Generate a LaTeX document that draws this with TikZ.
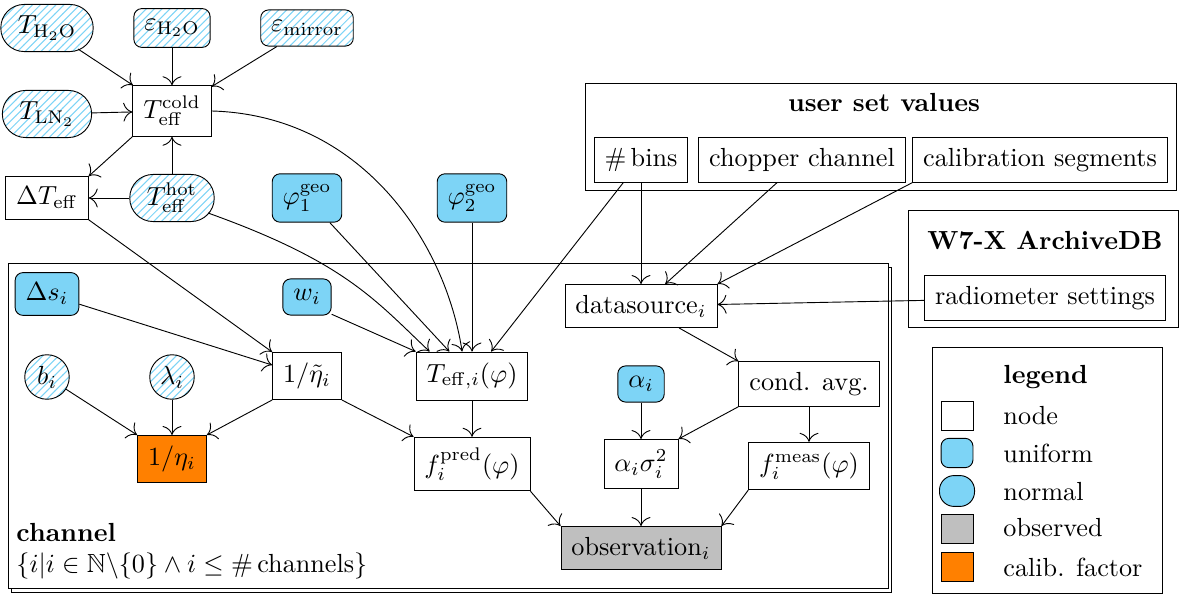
\documentclass[tikz,border=0pt]{standalone}
\usepackage{amssymb}
\usetikzlibrary{patterns,calc,arrows.meta}
\definecolor{unifblue}{RGB}{125,212,246}
\definecolor{calibor}{RGB}{255,128,0}
\definecolor{obsgray}{RGB}{191,191,191}
\tikzset{
  box/.style={draw, rectangle, fill=white, inner sep=4pt},
  unif/.style={draw, rectangle, rounded corners=3pt, fill=unifblue, inner sep=4pt},
  fixbox/.style={draw, rectangle, rounded corners=3pt, pattern=north east lines,
    pattern color=unifblue, inner xsep=4pt, inner ysep=4pt},
  pill/.style={draw, rectangle, rounded corners=8.9pt, minimum height=18pt,
    pattern=north east lines, pattern color=unifblue, inner xsep=6.5pt},
  dot/.style={draw, circle, minimum size=17pt, inner sep=0pt,
    pattern=north east lines, pattern color=unifblue},
  obs/.style={box, fill=obsgray},
  calib/.style={box, fill=calibor},
  lgicon/.style={minimum width=12.2pt, minimum height=11.2pt, inner sep=0pt},
  lgtext/.style={anchor=base west, inner sep=0pt},
  conn/.style={-{To[scale=1.45]}},
}
\begin{document}
\begin{tikzpicture}[x=0.382pt,y=-0.382pt,line width=0.35pt]
\useasboundingbox (0,0) rectangle (1181,595);

% channel plate (stacked)
\draw[fill=white] (11,267) rectangle (891,592);
\draw[fill=white] (8,263) rectangle (888,588);

% outer groups
\draw (585,83) rectangle (1176,190);
\node[font=\bfseries] (usertitle) at (884,103) {user set values};
\draw (908,210) rectangle (1178,327);
\node[font=\bfseries] (archtitle) at (1045,241) {W7-X ArchiveDB};
\draw (932,347) rectangle (1162,593);

% calibration source parameters
\node[pill] (TH2O) at (47,28) {$T_{\mathrm{H_2O}}$};
\node[fixbox] (eH2O) at (172,28) {$\varepsilon_{\mathrm{H_2O}}$};
\node[fixbox] (emir) at (307,28) {$\varepsilon_{\mathrm{mirror}}$};
\node[pill] (TLN2) at (47,114) {$T_{\mathrm{LN_2}}$};
\node[box] (Tcold) at (172,111) {$T_{\mathrm{eff}}^{\mathrm{cold}}$};
\node[box] (dT) at (47,198) {$\Delta T_{\mathrm{eff}}$};
\node[pill] (Thot) at (172,198) {$T_{\mathrm{eff}}^{\mathrm{hot}}$};
\node[unif] (phi1) at (307,198) {$\varphi_1^{\mathrm{geo}}$};
\node[unif] (phi2) at (472,198) {$\varphi_2^{\mathrm{geo}}$};

% user set values and archive
\node[box] (bins) at (641,160) {\#\,bins};
\node[box] (chop) at (802,160) {chopper channel};
\node[box] (cseg) at (1040,160) {calibration segments};
\node[box] (radio) at (1045,298) {radiometer settings};

% per-channel nodes
\node[unif] (ds) at (47,294) {$\Delta s_i$};
\node[unif] (w) at (307,297) {$w_i$};
\node[dot] (b) at (47,377) {$b_i$};
\node[dot] (lam) at (172,377) {$\lambda_i$};
\node[box] (etat) at (307,376) {$1/\tilde\eta_i$};
\node[calib] (eta) at (172,459) {$1/\eta_i$};
\node[box] (Teffi) at (472,376) {$T_{\mathrm{eff},i}(\varphi)$};
\node[box] (dsrc) at (641,306) {datasource$_i$};
\node[unif] (alpha) at (641,384) {$\alpha_i$};
\node[box] (cavg) at (809,384) {cond. avg.};
\node[box] (fpred) at (472,464) {$f_i^{\mathrm{pred}}(\varphi)$};
\node[box] (asig) at (641,464) {$\alpha_i\sigma_i^2$};
\node[box] (fmeas) at (809,466) {$f_i^{\mathrm{meas}}(\varphi)$};
\node[obs] (obsv) at (641,548) {observation$_i$};
\node[lgtext, font=\bfseries] (chlabel) at (16,541) {channel};
\node[lgtext] (chset) at (16,572) {$\{i|i\in\mathbb{N}\backslash\{0\}\wedge i\leq\#$\,channels$\}$};

% legend
\node[lgtext, font=\bfseries] (lgtitle) at (1003,384) {legend};
\node[box, lgicon] (lgnode) at (957,416) {};
\node[unif, lgicon] (lguni) at (957,453) {};
\node[draw, fill=unifblue, rounded corners=5.6pt, minimum width=13.4pt,
      minimum height=11.8pt, inner sep=0pt] (lgnorm) at (957,491) {};
\node[obs, lgicon] (lgobs) at (957,529) {};
\node[calib, lgicon] (lgcal) at (957,567) {};
\node[lgtext] (lgt1) at (1003,425) {node};
\node[lgtext] (lgt2) at (1003,463) {uniform};
\node[lgtext] (lgt3) at (1003,500) {normal};
\node[lgtext] (lgt4) at (1003,537) {observed};
\node[lgtext] (lgt5) at (1003,576) {calib. factor};

% connectors: calibration temperatures
\draw[conn] ($(TH2O)+(31,21)$) -- (Tcold);
\draw[conn] (eH2O) -- (Tcold);
\draw[conn] (emir) -- (Tcold);
\draw[conn] (TLN2) -- (Tcold);
\draw[conn] (Thot) -- (Tcold);
\draw[conn] (Tcold.south west) -- (dT.north east);
\draw[conn] (Thot) -- (dT);
\draw[conn] (Tcold.east) .. controls (360,115) and (445,240) .. (Teffi.112);
\draw[conn] ($(Thot)+(36,15)$) .. controls (345,262) and (375,300) .. (Teffi.150);
\draw[conn] (phi1) -- (Teffi);
\draw[conn] (phi2) -- (Teffi);
\draw[conn] (w.-35) -- (Teffi.north west);
\draw[conn] (bins) -- (Teffi);

% connectors: data handling
\draw[conn] (bins) -- (dsrc);
\draw[conn] (chop) -- (dsrc);
\draw[conn] (cseg.south west) -- (dsrc.north east);
\draw[conn] (radio) -- (dsrc);
\draw[conn] (dsrc.-30) -- (cavg.north west);
\draw[conn] (cavg.south west) -- (asig.north east);
\draw[conn] (cavg) -- (fmeas);
\draw[conn] (alpha) -- (asig);

% connectors: channel model
\draw[conn] (ds) -- (etat);
\draw[conn] (dT.south east) -- (etat.north west);
\draw[conn] (etat.south west) -- (eta.north east);
\draw[conn] (b) -- (eta.north west);
\draw[conn] (lam) -- (eta);
\draw[conn] (Teffi) -- (fpred);
\draw[conn] (etat.south east) -- (fpred.north west);
\draw[conn] (fpred.south east) -- (obsv.north west);
\draw[conn] (asig) -- (obsv);
\draw[conn] (fmeas.south west) -- (obsv.north east);
\end{tikzpicture}
\end{document}
